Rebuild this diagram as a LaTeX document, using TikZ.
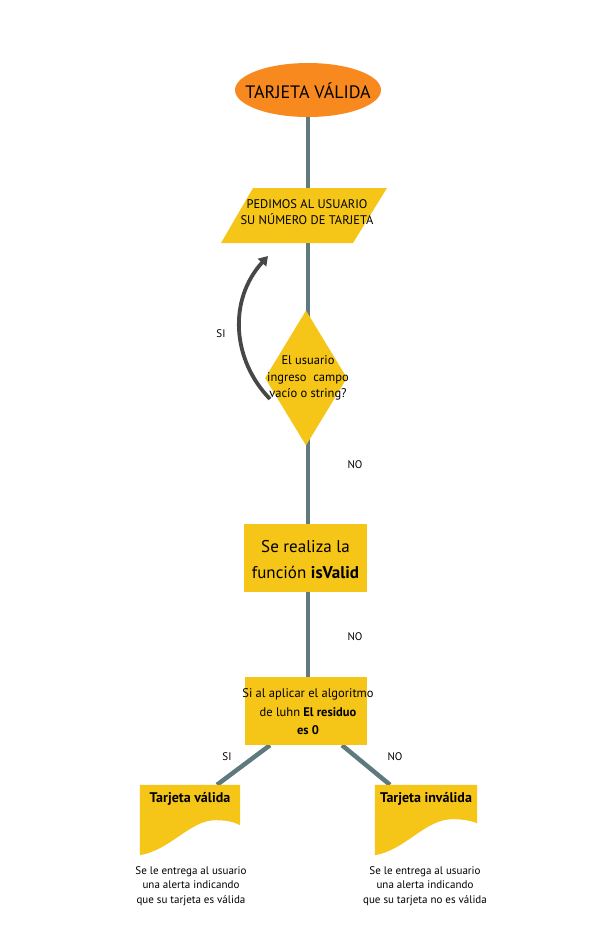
\documentclass[tikz,border=0pt]{standalone}
\usepackage{fontspec}
\setmainfont{PT Sans}
\usetikzlibrary{shapes.geometric,arrows.meta,backgrounds}
\definecolor{orng}{HTML}{F7891F}
\definecolor{gold}{HTML}{F5C518}
\definecolor{conn}{HTML}{5E7A7E}
\definecolor{darkarr}{HTML}{474747}
\tikzset{
  connline/.style={draw=conn,line width=4.5pt},
  lbl/.style={font=\fontsize{11}{13}\selectfont,inner sep=0},
  caption/.style={font=\fontsize{11}{14.5}\selectfont,align=center,inner sep=0},
  boxtext/.style={align=center,inner sep=0},
  doctitle/.style={inner sep=0,font=\bfseries\fontsize{14}{16}\selectfont},
}
\begin{document}
\begin{tikzpicture}[x=1pt,y=-1pt]
\useasboundingbox (0,0) rectangle (612,951);
% start ellipse
\node[ellipse,fill=orng,minimum width=146pt,minimum height=54pt,inner sep=0] (start) at (308,90) {};
\node[inner sep=0,font=\fontsize{18}{20}\selectfont] (starttext) at (308,91) {TARJETA VÁLIDA};
% parallelogram
\coordinate (p1) at (253,188);
\coordinate (p2) at (387,188);
\coordinate (p3) at (353,243);
\coordinate (p4) at (221,243);
\fill[gold] (p1) -- (p2) -- (p3) -- (p4) -- cycle;
\node[boxtext,font=\fontsize{12.5}{16.5}\selectfont] (ask) at (307,212) {PEDIMOS AL USUARIO\\SU NÚMERO DE TARJETA};
% diamond
\node[diamond,fill=gold,minimum width=82pt,minimum height=135pt,inner sep=0] (dec) at (306,378) {};
\node[boxtext,font=\fontsize{12.5}{16.5}\selectfont] (dectext) at (308,378) {El usuario\\ingreso~ campo\\vacío o string?};
% rect 1
\node[rectangle,fill=gold,minimum width=123pt,minimum height=68pt,inner sep=0] (fun) at (305.5,558) {};
\node[boxtext,font=\fontsize{17}{26}\selectfont] (funtext) at (305.5,560) {Se realiza la\\función \textbf{isValid}};
% rect 2
\node[rectangle,fill=gold,minimum width=122pt,minimum height=68pt,inner sep=0] (luhn) at (306,711) {};
\node[boxtext,font=\fontsize{12.5}{18.5}\selectfont] (luhntext) at (308,712) {Si al aplicar el algoritmo\\de luhn \textbf{El residuo}\\\textbf{es 0}};
% documents
\node[minimum width=100pt,minimum height=70pt,inner sep=0] (docL) at (190,820) {};
\fill[gold] (docL.north west) -- (docL.north east) -- ([yshift=30pt]docL.south east)
  .. controls ([xshift=-8pt,yshift=34pt]docL.south east) and ([xshift=-15pt,yshift=35pt]docL.south east) .. ([xshift=-25pt,yshift=35pt]docL.south east)
  .. controls ([xshift=-50pt,yshift=35pt]docL.south east) and ([xshift=-70pt,yshift=5pt]docL.south east) .. (docL.south west) -- cycle;
\node[doctitle] (docLt) at (190,799) {Tarjeta válida};
\node[minimum width=102pt,minimum height=70pt,inner sep=0] (docR) at (426,820) {};
\fill[gold] (docR.north west) -- (docR.north east) -- ([yshift=32pt]docR.south east)
  .. controls ([xshift=-8pt,yshift=35pt]docR.south east) and ([xshift=-15pt,yshift=36pt]docR.south east) .. ([xshift=-25pt,yshift=36pt]docR.south east)
  .. controls ([xshift=-52pt,yshift=36pt]docR.south east) and ([xshift=-72pt,yshift=5pt]docR.south east) .. (docR.south west) -- cycle;
\node[doctitle] (docRt) at (426,799) {Tarjeta inválida};
% captions
\node[caption] (capL) at (191,886) {Se le entrega al usuario\\una alerta indicando\\que su tarjeta es válida};
\node[caption] (capR) at (425,886) {Se le entrega al usuario\\una alerta indicando\\que su tarjeta no es válida};
% connectors behind
\begin{scope}[on background layer]
\draw[connline] (start.south) -- (start.south |- luhn.north);
\coordinate (lA) at ([xshift=-36pt]luhn.south);
\coordinate (lB) at ([xshift=27pt]docL.north);
\coordinate (rA) at ([xshift=36pt]luhn.south);
\coordinate (rB) at ([xshift=-36pt]docR.north);
\draw[connline] (lA) -- (lB);
\draw[connline] (rA) -- (rB);
\end{scope}
% loop arrow
\coordinate (loopS) at (270,399);
\coordinate (loopE) at (268,256);
\draw[darkarr,line width=3.8pt,-{Triangle[length=9pt,width=11pt]}]
  (loopS) .. controls (232,360) and (228,300) .. (loopE);
% labels
\node[lbl] (si1) at (221,334) {SI};
\node[lbl] (no1) at (355,465) {NO};
\node[lbl] (no2) at (355,637) {NO};
\node[lbl] (si2) at (227,757) {SI};
\node[lbl] (no3) at (395,757) {NO};
\end{tikzpicture}
\end{document}
